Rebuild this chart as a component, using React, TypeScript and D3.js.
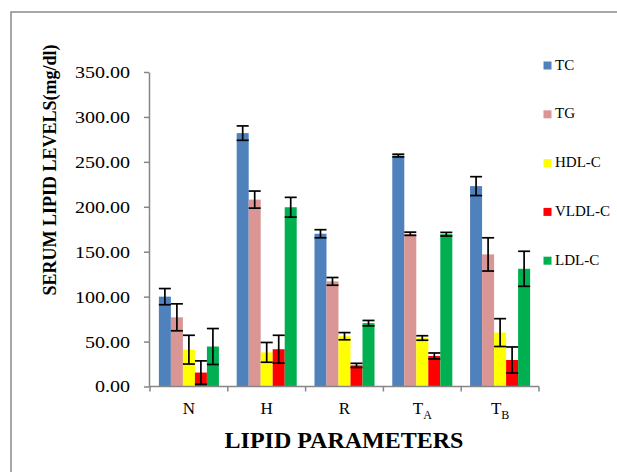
import React, { useRef, useEffect } from 'react';
import * as d3 from 'd3';

const categories = ['N', 'H', 'R', 'TA', 'TB'];
const seriesNames = ['TC', 'TG', 'HDL-C', 'VLDL-C', 'LDL-C'];
const seriesColors = ['#4F81BD', '#D99694', '#FFFF00', '#FF0000', '#00B050'];

const tc = [100, 282, 170, 257, 223];
const tcErr = [9, 8, 4.5, 1.5, 10.5];
const tg = [77, 208, 117, 170, 147];
const tgErr = [15, 9.5, 4.3, 1.8, 18.5];
const hdl = [41, 38, 56, 54, 60];
const hdlErr = [16, 11, 4, 2.5, 15.5];
const vldl = [15.5, 41.5, 23.5, 34, 29.5];
const vldlErr = [13, 15.5, 2.3, 3.3, 14.5];
const ldl = [44.5, 199.5, 70.5, 169.5, 131];
const ldlErr = [20, 11, 3, 2, 19.5];

const yTicks = [0, 50, 100, 150, 200, 250, 300, 350];

export default function App() {
  const svgRef = useRef<SVGSVGElement>(null);

  useEffect(() => {
    const W = 617;
    const H = 472;
    const values = [tc, tg, hdl, vldl, ldl];
    const errors = [tcErr, tgErr, hdlErr, vldlErr, ldlErr];

    const svg = d3.select(svgRef.current).attr('width', W).attr('height', H);
    svg.selectAll('*').remove();

    const serif = '"Liberation Serif", "Times New Roman", serif';
    const axisColor = '#868686';

    // outer frame
    svg.append('rect')
      .attr('x', 11).attr('y', 12)
      .attr('width', W + 20).attr('height', H + 20)
      .attr('fill', 'white')
      .attr('stroke', '#8a8a8a').attr('stroke-width', 1.5);

    const x0 = d3.scaleBand().domain(categories).range([150, 539]).padding(0);
    const x1 = d3.scaleBand().domain(seriesNames).range([0, x0.bandwidth()]).paddingOuter(0.74).paddingInner(0);
    const y = d3.scaleLinear().domain([0, 350]).range([386.5, 72]);

    // bars
    const rows = categories.flatMap((c, i) =>
      seriesNames.map((s, j) => ({ c, s, j, v: values[j][i], e: errors[j][i] }))
    );

    const g = svg.append('g');
    g.selectAll('rect.bar')
      .data(rows)
      .join('rect')
      .attr('class', 'bar')
      .attr('x', d => x0(d.c)! + x1(d.s)!)
      .attr('y', d => y(d.v))
      .attr('width', x1.bandwidth())
      .attr('height', d => y(0) - y(d.v))
      .attr('fill', d => seriesColors[d.j]);

    // error bars
    const eb = g.selectAll('g.err').data(rows).join('g').attr('class', 'err')
      .attr('stroke', '#000').attr('stroke-width', 1.7).attr('fill', 'none');
    const cx = (d: any) => x0(d.c)! + x1(d.s)! + x1.bandwidth() / 2;
    const hw = x1.bandwidth() / 2;
    eb.append('line')
      .attr('x1', cx).attr('x2', cx)
      .attr('y1', d => y(d.v + d.e)).attr('y2', d => y(Math.max(0, d.v - d.e)));
    eb.append('line')
      .attr('x1', d => cx(d) - hw).attr('x2', d => cx(d) + hw)
      .attr('y1', d => y(d.v + d.e)).attr('y2', d => y(d.v + d.e));
    eb.append('line')
      .attr('x1', d => cx(d) - hw).attr('x2', d => cx(d) + hw)
      .attr('y1', d => y(Math.max(0, d.v - d.e))).attr('y2', d => y(Math.max(0, d.v - d.e)));

    // y axis
    const yAxis = svg.append('g')
      .attr('transform', 'translate(149,0)')
      .call(d3.axisLeft(y).tickValues(yTicks).tickFormat(d3.format('.2f')).tickSize(5).tickSizeOuter(0));
    yAxis.select('.domain').attr('stroke', axisColor).attr('stroke-width', 1.5);
    yAxis.selectAll('.tick line').attr('stroke', axisColor).attr('stroke-width', 1.5);
    yAxis.selectAll('.tick text')
      .attr('x', -19 / 1.18)
      .attr('transform', 'scale(1.18,1)')
      .attr('fill', '#000')
      .style('font-family', serif)
      .style('font-size', '17px');

    // x axis
    const xAxis = svg.append('g').attr('transform', `translate(0,${y(0)})`);
    xAxis.append('line')
      .attr('x1', 149).attr('x2', 539)
      .attr('stroke', axisColor).attr('stroke-width', 1.5);
    const bounds = categories.map(c => x0(c)!).concat([x0.range()[1]]);
    xAxis.selectAll('line.sep').data(bounds).join('line')
      .attr('class', 'sep')
      .attr('x1', d => d).attr('x2', d => d)
      .attr('y1', 0).attr('y2', 5)
      .attr('stroke', axisColor).attr('stroke-width', 1.5);

    const labels = svg.append('g')
      .style('font-family', serif).style('font-size', '17px');
    categories.forEach(c => {
      const t = labels.append('text')
        .attr('x', x0(c)! + x0.bandwidth() / 2)
        .attr('y', 414)
        .attr('text-anchor', 'middle');
      if (c.length > 1) {
        t.append('tspan').text(c[0]);
        t.append('tspan').attr('dy', 5).style('font-size', '12px').text(c.slice(1));
      } else {
        t.text(c);
      }
    });

    // axis titles
    svg.append('text')
      .attr('x', 344).attr('y', 448)
      .attr('text-anchor', 'middle')
      .style('font-family', serif).style('font-size', '24px').style('font-weight', 'bold')
      .text('LIPID PARAMETERS');

    svg.append('text')
      .attr('transform', 'translate(56,170) rotate(-90)')
      .attr('text-anchor', 'middle')
      .style('font-family', serif).style('font-size', '18px').style('font-weight', 'bold')
      .text('SERUM LIPID LEVELS(mg/dl)');

    // legend
    const legend = svg.append('g').selectAll('g').data(seriesNames).join('g')
      .attr('transform', (_, i) => `translate(543.5,${69.5 + i * 48.8})`);
    legend.append('rect')
      .attr('x', 0).attr('y', -8).attr('width', 8).attr('height', 8)
      .attr('fill', (_, i) => seriesColors[i]);
    legend.append('text')
      .attr('x', 11.5).attr('y', 0)
      .style('font-family', serif).style('font-size', '15px')
      .text(d => d);
  }, []);

  return (
    <div style={{ position: 'absolute', left: 0, top: 0, width: 617, height: 472, overflow: 'hidden', background: '#fff' }}>
      <svg ref={svgRef} style={{ display: 'block' }} />
    </div>
  );
}
